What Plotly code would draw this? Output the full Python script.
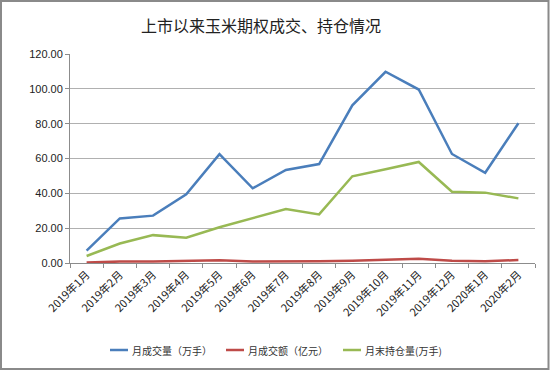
import plotly.graph_objects as go

months = ["2019年1月", "2019年2月", "2019年3月", "2019年4月", "2019年5月", "2019年6月",
          "2019年7月", "2019年8月", "2019年9月", "2019年10月", "2019年11月", "2019年12月",
          "2020年1月", "2020年2月"]
volume = [7.1, 25.6, 27.2, 39.4, 62.5, 42.9, 53.4, 56.8, 90.5, 109.8, 99.6, 62.6, 51.8, 80.2]
turnover = [0.3, 0.8, 0.8, 1.0, 1.6, 0.8, 0.8, 1.0, 1.3, 2.0, 2.4, 1.3, 1.0, 1.7]
open_interest = [4.0, 11.2, 16.0, 14.5, 20.5, 25.6, 31.0, 27.9, 49.8, 53.8, 58.0, 40.9, 40.4, 37.1]
yticks = [0, 20, 40, 60, 80, 100, 120]
ytick_text = ["0.00", "20.00", "40.00", "60.00", "80.00", "100.00", "120.00"]

names = ["月成交量（万手）", "月成交额（亿元）", "月末持仓量(万手)"]
colors = ["#4A7EBB", "#BE4B48", "#98B954"]

fig = go.Figure()
for vals, nm, c in zip([volume, turnover, open_interest], names, colors):
    fig.add_trace(go.Scatter(x=months, y=vals, mode="lines", name=nm, showlegend=False,
                             line=dict(color=c, width=2.5)))

W, H = 550, 371
L, R, T, B = 70, 15, 54, 108
pw, ph = W - L - R, H - T - B


def px_x(p):
    return (p - L) / pw


def px_y(p):
    return (H - B - p) / ph


fig.update_layout(
    width=W, height=H,
    margin=dict(l=L, r=R, t=T, b=B, autoexpand=False),
    paper_bgcolor="white", plot_bgcolor="white",
    font=dict(family="Liberation Sans Narrow, Liberation Sans, Arial", color="#333333"),
    title=dict(text="上市以来玉米期权成交、持仓情况", x=261 / W, xanchor="center",
               y=1 - 26 / H, yanchor="middle",
               font=dict(family="Noto Sans CJK SC", size=16, color="#222222")),
    showlegend=False,
    xaxis=dict(type="category", showgrid=False, showline=True, linecolor="#8c8c8c",
               ticks="outside", ticklen=4, tickcolor="#8c8c8c", tickson="boundaries",
               tickangle=-45, automargin=False,
               tickfont=dict(family="Noto Sans CJK SC", size=11, color="#222222"),
               range=[-0.5, 13.5], fixedrange=True),
    yaxis=dict(range=[0, 120], tickvals=yticks, ticktext=ytick_text, automargin=False,
               showgrid=True, gridcolor="#b0b0b0", gridwidth=1,
               showline=True, linecolor="#8c8c8c", ticks="outside", ticklen=4,
               tickcolor="#8c8c8c", zeroline=False,
               tickfont=dict(size=11, color="#222222")),
)

# legend (drawn manually to match the compact original layout)
legend_starts = [110, 226, 343]
for x0, nm, c in zip(legend_starts, names, colors):
    fig.add_shape(type="line", xref="paper", yref="paper",
                  x0=px_x(x0), x1=px_x(x0 + 18), y0=px_y(350), y1=px_y(350),
                  line=dict(color=c, width=2.5))
    fig.add_annotation(xref="paper", yref="paper", x=px_x(x0 + 20), y=px_y(350),
                       xanchor="left", yanchor="middle", showarrow=False, text=nm,
                       font=dict(family="Noto Sans CJK SC", size=10, color="#333333"))

# outer frame
fig.add_shape(type="rect", xref="paper", yref="paper",
              x0=px_x(1), x1=px_x(W - 1.5),
              y0=px_y(H - 2), y1=px_y(1),
              line=dict(color="#8a8a8a", width=2), fillcolor="rgba(0,0,0,0)", layer="below")

fig.write_html("out.html", config={"displayModeBar": False},
               post_script="document.body.style.margin='0';document.body.style.overflow='hidden';")
